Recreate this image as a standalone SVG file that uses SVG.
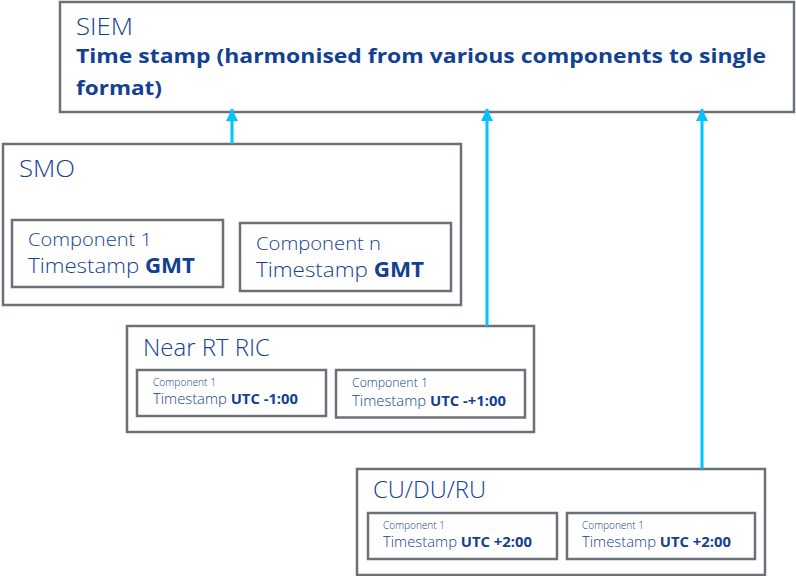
<svg xmlns="http://www.w3.org/2000/svg" width="796" height="576" viewBox="0 0 796 576">
<defs>
<style>
.box{fill:#fff;stroke:#6b7079;stroke-width:2.5}
.t{font-family:"Open Sans","Liberation Sans",sans-serif;fill:#124191;font-weight:300}
.b{font-weight:700}
.conn{stroke:#00c3ff;stroke-width:3;fill:none}
</style>
<marker id="ah" viewBox="0 0 12 12" refX="12" refY="6" markerWidth="12" markerHeight="12" markerUnits="userSpaceOnUse" orient="auto">
<path d="M0,0 L12,6 L0,12 Z" fill="#00c3ff"/>
</marker>
</defs>
<rect width="796" height="576" fill="#fff"/>
<g id="siem">
<rect class="box" x="60" y="2" width="734" height="110"/>
<text class="t" x="76" y="35" font-size="24" textLength="57" lengthAdjust="spacingAndGlyphs">SIEM</text>
<text class="t b" x="76" y="63" font-size="20" textLength="690" lengthAdjust="spacingAndGlyphs">Time stamp (harmonised from various components to  single</text>
<text class="t b" x="76" y="95" font-size="20" textLength="86" lengthAdjust="spacingAndGlyphs">format)</text>
</g>
<g id="smo">
<rect class="box" x="3" y="144" width="458" height="161"/>
<text class="t" x="19" y="177" font-size="24" textLength="56" lengthAdjust="spacingAndGlyphs">SMO</text>
<g id="smo-c1">
<rect class="box" x="12" y="220" width="211" height="67"/>
<text class="t" x="28" y="246" font-size="19" textLength="124" lengthAdjust="spacingAndGlyphs">Component 1</text>
<text class="t" x="28" y="273" font-size="21" textLength="167" lengthAdjust="spacingAndGlyphs">Timestamp <tspan class="b">GMT</tspan></text>
</g>
<g id="smo-cn">
<rect class="box" x="240" y="223" width="211" height="68"/>
<text class="t" x="256" y="250" font-size="19" textLength="125" lengthAdjust="spacingAndGlyphs">Component n</text>
<text class="t" x="256" y="277" font-size="21" textLength="168" lengthAdjust="spacingAndGlyphs">Timestamp <tspan class="b">GMT</tspan></text>
</g>
</g>
<g id="nearrtric">
<rect class="box" x="127" y="326" width="407" height="106"/>
<text class="t" x="143" y="356" font-size="23" textLength="127" lengthAdjust="spacingAndGlyphs">Near RT RIC</text>
<g id="ric-c1">
<rect class="box" x="137" y="370" width="189" height="46"/>
<text class="t" x="153" y="386" font-size="11" textLength="63" lengthAdjust="spacingAndGlyphs">Component 1</text>
<text class="t" x="153" y="404" font-size="15" textLength="145" lengthAdjust="spacingAndGlyphs">Timestamp <tspan class="b">UTC -1:00</tspan></text>
</g>
<g id="ric-c2">
<rect class="box" x="336" y="370" width="189" height="47.5"/>
<text class="t" x="352" y="387" font-size="12" textLength="76" lengthAdjust="spacingAndGlyphs">Component 1</text>
<text class="t" x="352" y="406" font-size="15" textLength="154" lengthAdjust="spacingAndGlyphs">Timestamp <tspan class="b">UTC -+1:00</tspan></text>
</g>
</g>
<g id="cuduru">
<rect class="box" x="357" y="469" width="408" height="106"/>
<text class="t" x="373" y="498" font-size="23" textLength="113" lengthAdjust="spacingAndGlyphs">CU/DU/RU</text>
<g id="cu-c1">
<rect class="box" x="368" y="513" width="189" height="46"/>
<text class="t" x="383" y="529" font-size="11" textLength="62" lengthAdjust="spacingAndGlyphs">Component 1</text>
<text class="t" x="383" y="547" font-size="15" textLength="149" lengthAdjust="spacingAndGlyphs">Timestamp <tspan class="b">UTC +2:00</tspan></text>
</g>
<g id="cu-c2">
<rect class="box" x="567" y="513" width="188" height="46"/>
<text class="t" x="582" y="529" font-size="11" textLength="62" lengthAdjust="spacingAndGlyphs">Component 1</text>
<text class="t" x="582" y="547" font-size="15" textLength="149" lengthAdjust="spacingAndGlyphs">Timestamp <tspan class="b">UTC +2:00</tspan></text>
</g>
</g>
<g id="connectors">
<line class="conn" x1="232" y1="144" x2="232" y2="109" marker-end="url(#ah)"/>
<line class="conn" x1="487" y1="326" x2="487" y2="109" marker-end="url(#ah)"/>
<line class="conn" x1="702" y1="469" x2="702" y2="109" marker-end="url(#ah)"/>
</g>
</svg>
